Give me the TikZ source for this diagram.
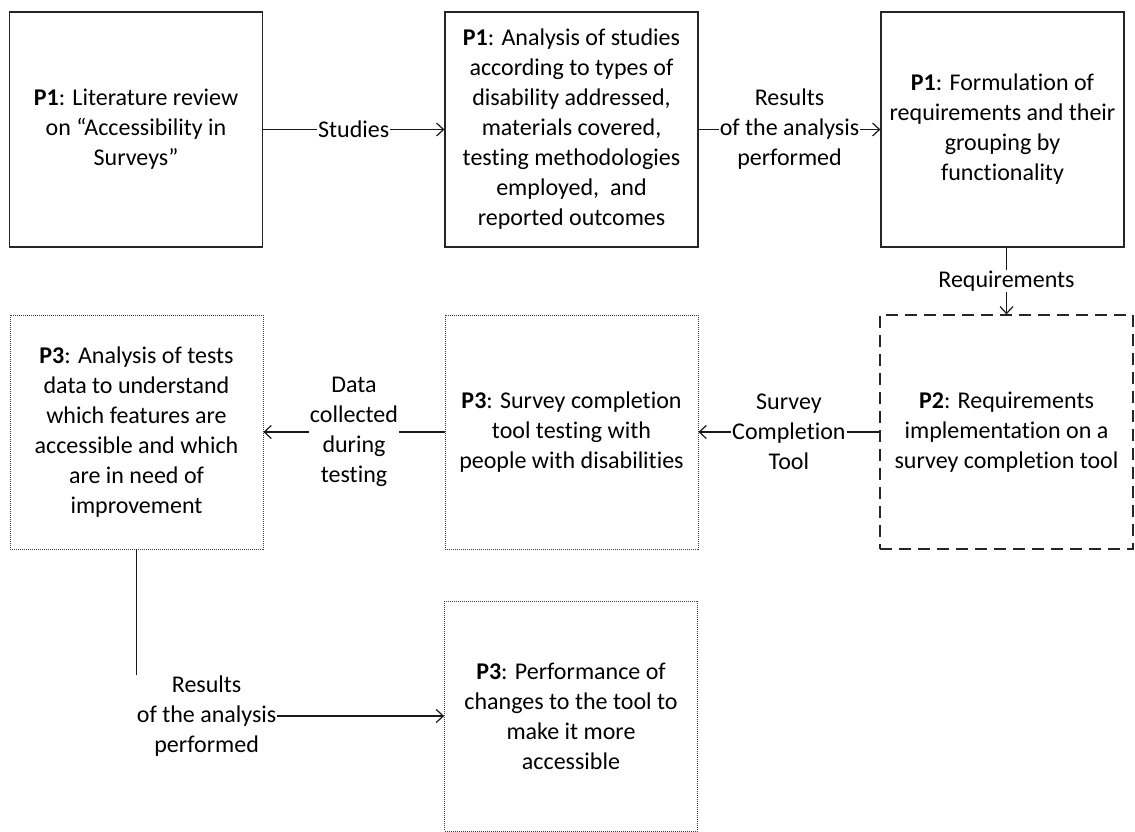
\documentclass[tikz,border=0pt]{standalone}
\usepackage{fontspec}
\setmainfont{Carlito}[Ligatures={NoCommon}]
\usetikzlibrary{arrows.meta}
\begin{document}
\begin{tikzpicture}[x=1pt,y=-1pt,
  font=\fontsize{24}{30}\selectfont,
  proc/.style={draw=black!85, line width=1.2pt, align=center, inner sep=0pt,
    minimum width=253pt, minimum height=235pt},
  ptwo/.style={proc, dash pattern=on 12pt off 7pt},
  pthree/.style={proc, draw=black!75, line width=0.8pt, dash pattern=on 1pt off 1pt},
  lab/.style={fill=white, inner sep=1pt, align=center},
  conn/.style={draw=black!90, line width=1.2pt, -{Straight Barb[length=7pt,width=13pt]}}
]
\useasboundingbox (0,0) rectangle (1135,832);

\node[proc] (A) at (136,129.5) {\textbf{P1}: Literature review\\on “Accessibility in\\Surveys”};
\node[proc] (B) at (571.5,129.5) {\textbf{P1}: Analysis of studies\\according to types of\\disability addressed,\\materials covered,\\testing methodologies\\employed,\ \ and\\reported outcomes};
\node[proc, minimum width=243pt] (C) at (1002.5,129.5) {\textbf{P1}: Formulation of\\requirements and their\\grouping by\\functionality};
\node[ptwo, minimum height=234pt] (D) at (1006.5,432) {\textbf{P2}: Requirements\\implementation on a\\survey completion tool};
\node[pthree, minimum height=234pt] (E) at (571.5,432) {\textbf{P3}: Survey completion\\tool testing with\\people with disabilities};
\node[pthree, minimum height=234pt] (F) at (136.5,432) {\textbf{P3}: Analysis of tests\\data to understand\\which features are\\accessible and which\\are in need of\\improvement};
\node[pthree, minimum height=230pt] (G) at (571,716) {\textbf{P3}: Performance of\\changes to the tool to\\make it more\\accessible};

\draw[conn] (A) -- node[lab] (l1) {Studies} (B);
\draw[conn] (B) -- node[lab] (l2) {Results\\of the analysis\\performed} (C);
\draw[conn] (D.north |- C.south) -- node[lab] (l3) {Requirements} (D.north);
\draw[conn] (D) -- node[lab] (l4) {Survey\\Completion\\Tool} (E);
\draw[conn] (E) -- node[lab] (l5) {Data\\collected\\during\\testing} (F);
\draw[conn] (F.south) |- node[lab, pos=0.614] (l6) {Results\\of the analysis\\performed} (G.west);
\end{tikzpicture}
\end{document}
